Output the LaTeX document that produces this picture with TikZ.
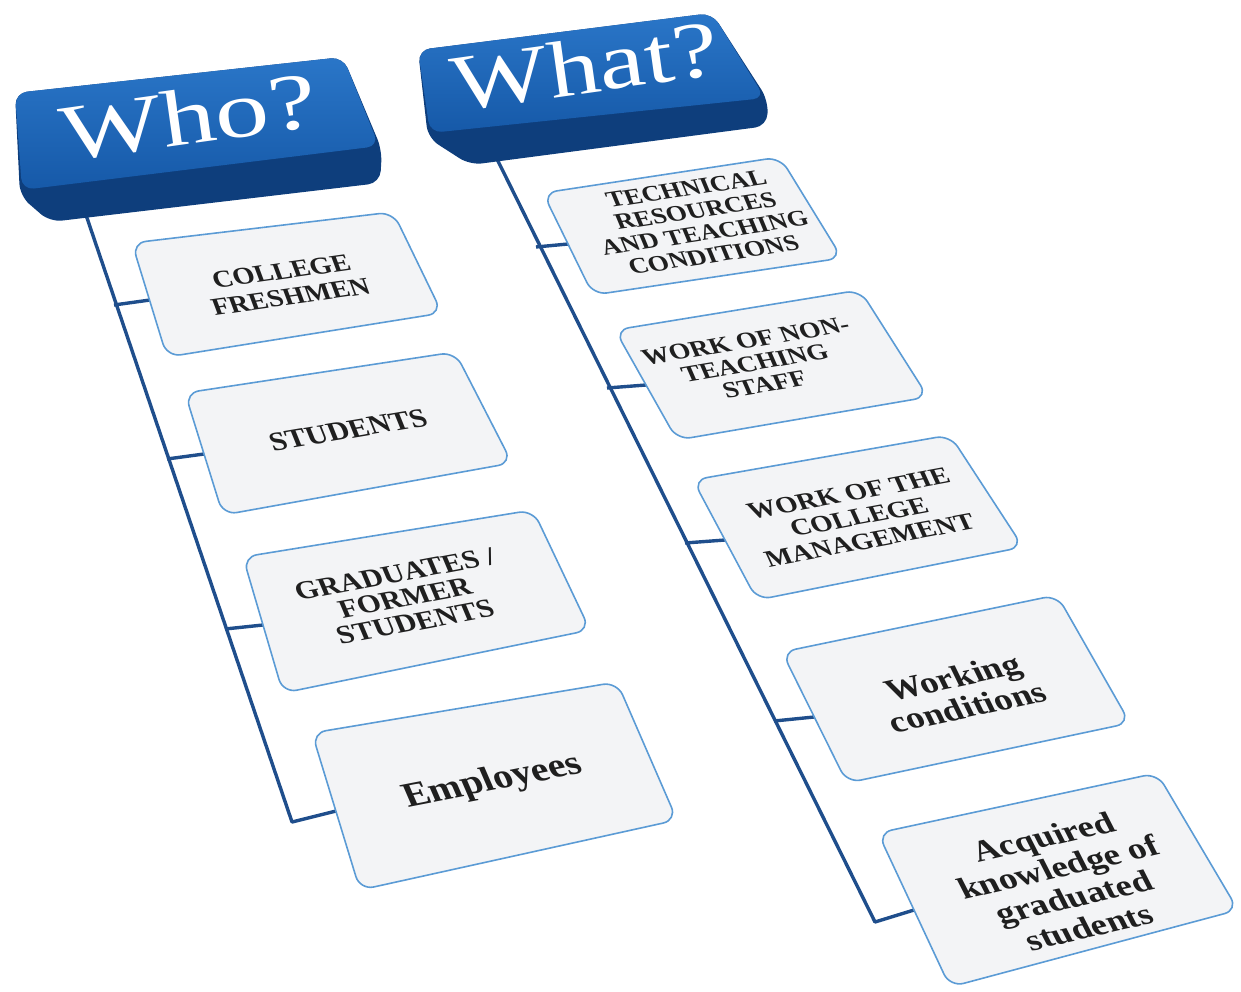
\documentclass[tikz,border=0pt]{standalone}
\usepackage{fontspec}
\setmainfont{Liberation Serif}
\usetikzlibrary{calc}
\definecolor{btnTop}{HTML}{2A76C8}
\definecolor{btnBot}{HTML}{1659A8}
\definecolor{btnSide}{HTML}{0E3E7C}
\definecolor{lineBlue}{HTML}{1F4E8C}
\definecolor{boxLine}{HTML}{5B9BD5}
\definecolor{boxFill}{HTML}{F3F4F6}
\begin{document}
\begin{tikzpicture}[x=1pt,y=-1pt,
  conn/.style={draw=lineBlue, line width=3.4pt, line join=round},
  card/.style={draw=boxLine, line width=1.6pt, fill=boxFill, rounded corners=14pt},
  lbl/.style={align=center, text=black!88, inner sep=0pt},
  title/.style={text=white, inner sep=0pt, font=\fontsize{74}{74}\selectfont}]
\useasboundingbox (0,0) rectangle (1241,992);

% ---------- connector coordinates ----------
\coordinate (wt) at (85,212);
\coordinate (wb) at (292,822);
\coordinate (t1) at (114,305);
\coordinate (t2) at (167,459);
\coordinate (t3) at (225,629);
\coordinate (m1) at (150,300);
\coordinate (m2) at (204,454);
\coordinate (m3) at (263,625);
\coordinate (m4) at (336,811);

\coordinate (rt) at (495,155);
\coordinate (rb) at (875,922);
\coordinate (tA) at (536,247);
\coordinate (tB) at (607,388);
\coordinate (tC) at (685,543);
\coordinate (tD) at (774,721);
\coordinate (mA) at (568,244);
\coordinate (mB) at (646,385);
\coordinate (mC) at (725,540);
\coordinate (mD) at (814,717);
\coordinate (mE) at (914,910);

% ---------- connectors ----------
\draw[conn] (wt) -- (wb) -- (m4);
\draw[conn] (t1) -- (m1);
\draw[conn] (t2) -- (m2);
\draw[conn] (t3) -- (m3);
\draw[conn] (rt) -- (rb) -- (mE);
\draw[conn] (tA) -- (mA);
\draw[conn] (tB) -- (mB);
\draw[conn] (tC) -- (mC);
\draw[conn] (tD) -- (mD);

% ---------- buttons ----------
\fill[btnSide, rounded corners=12pt] (15,93) -- (343,57) -- (382,150) -- (380,183) -- (50,222) -- (20,196) -- cycle;
\shade[top color=btnTop, bottom color=btnBot, rounded corners=12pt] (15,93) -- (343,57) -- (379,146) -- (22,190) -- cycle;
\node[title, rotate=8, xscale=1.46, yscale=1.08] (who) at (188,117) {Who?};

\fill[btnSide, rounded corners=12pt] (418,50) -- (712,13) -- (768,100) -- (767,126) -- (470,165) -- (428,138) -- cycle;
\shade[top color=btnTop, bottom color=btnBot, rounded corners=12pt] (418,50) -- (712,13) -- (765,98) -- (430,133) -- cycle;
\node[title, rotate=8, xscale=1.39, yscale=1.08] (what) at (585,66) {What?};

% ---------- cards (left) ----------
\path[card] (132,243) -- (393,212) -- (442,313) -- (167,357) -- cycle;
\path[card] (185,393) -- (455,352) -- (512,463) -- (223,515) -- cycle;
\path[card] (243,557) -- (533,510) -- (590,630) -- (283,693) -- cycle;
\path[card] (312,733) -- (617,682) -- (677,820) -- (360,890) -- cycle;
% ---------- cards (right) ----------
\path[card] (543,193) -- (780,157) -- (842,258) -- (593,295) -- cycle;
\path[card] (615,330) -- (860,290) -- (928,397) -- (677,440) -- cycle;
\path[card] (693,480) -- (950,435) -- (1023,547) -- (757,600) -- cycle;
\path[card] (782,652) -- (1057,595) -- (1130,723) -- (847,783) -- cycle;
\path[card] (878,833) -- (1157,773) -- (1238,910) -- (950,987) -- cycle;

% ---------- labels ----------
\node[lbl, font=\bfseries\fontsize{28}{30}\selectfont, rotate=8, xslant=-0.22, yscale=0.88] (n1) at (286,284) {COLLEGE\\FRESHMEN};
\node[lbl, font=\bfseries\fontsize{30}{30}\selectfont, rotate=9.5, xslant=-0.22, yscale=0.9] (n2) at (348,430) {STUDENTS};
\node[lbl, font=\bfseries\fontsize{30}{29}\selectfont, rotate=10.5, xslant=-0.22, yscale=0.88] (n3) at (405,598) {GRADUATES /\\FORMER\\STUDENTS};
\node[lbl, font=\bfseries\fontsize{39}{39}\selectfont, rotate=11, xslant=-0.22, yscale=0.9] (n4) at (493,782) {Employees};

\node[lbl, font=\bfseries\fontsize{26.5}{27}\selectfont, rotate=8.5, xslant=-0.25, yscale=0.86] (nA) at (700,222) {TECHNICAL\\RESOURCES\\AND TEACHING\\CONDITIONS};
\node[lbl, font=\bfseries\fontsize{27}{27}\selectfont, rotate=9.5, xslant=-0.25, yscale=0.86] (nB) at (755,363) {WORK OF NON-\\TEACHING\\STAFF};
\node[lbl, font=\bfseries\fontsize{28}{29}\selectfont, rotate=10.5, xslant=-0.25, yscale=0.86] (nC) at (859,517) {WORK OF THE\\COLLEGE\\MANAGEMENT};
\node[lbl, font=\bfseries\fontsize{36}{37}\selectfont, rotate=12, xslant=-0.25, yscale=0.87] (nD) at (960,692) {Working\\conditions};
\node[lbl, font=\bfseries\fontsize{36}{38}\selectfont, rotate=13, xslant=-0.25, yscale=0.86] (nE) at (1066,882) {Acquired\\knowledge of\\graduated\\students};
\end{tikzpicture}
\end{document}
